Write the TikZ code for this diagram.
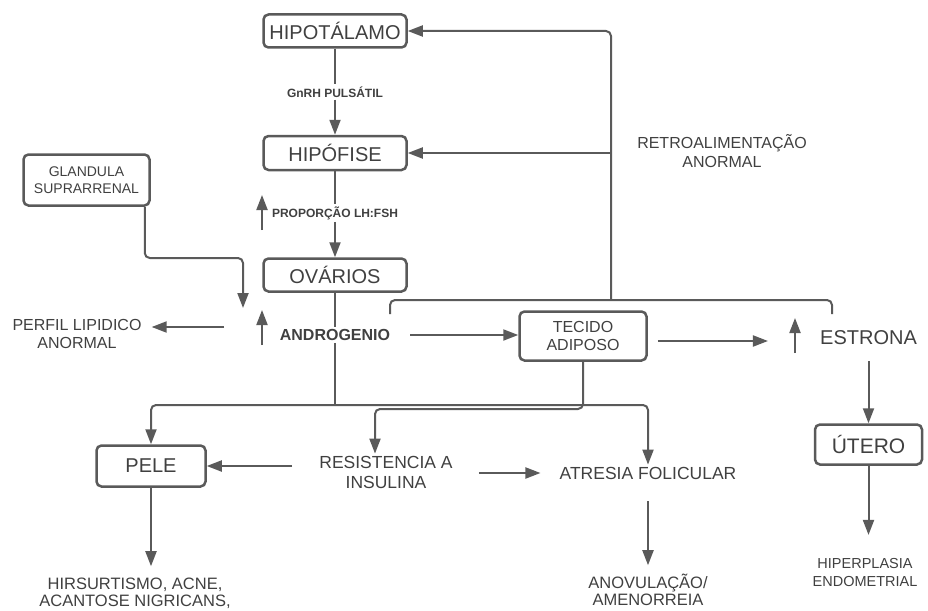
\documentclass[tikz,border=0pt]{standalone}
\usepackage{fontspec}
\setmainfont{Liberation Sans}
\usetikzlibrary{arrows.meta,calc}
\definecolor{lg}{HTML}{5A5A5A}
\definecolor{tg}{HTML}{404040}
\begin{document}
\begin{tikzpicture}[x=1pt,y=-1pt,
  box/.style={draw=lg, line width=2.5pt, rounded corners=5pt, text=tg, align=center, inner sep=0pt},
  lbl/.style={text=tg, align=center, inner sep=2pt},
  conn/.style={draw=lg, line width=2pt},
  arr/.style={conn, -{Triangle[length=15pt,width=11pt]}},
  fbig/.style={font=\fontsize{20}{22}\selectfont},
  futer/.style={font=\fontsize{21}{23}\selectfont},
  fmid/.style={font=\fontsize{17.5}{20}\selectfont},
  fsix/.style={font=\fontsize{16}{18}\selectfont},
  fretro/.style={font=\fontsize{16}{19}\selectfont},
  fbot/.style={font=\fontsize{16.5}{16.5}\selectfont},
  fhip/.style={font=\fontsize{14.5}{18.5}\selectfont},
  fgl/.style={font=\fontsize{14}{17}\selectfont},
  fbsix/.style={font=\bfseries\fontsize{16}{18}\selectfont},
  fbsm/.style={font=\bfseries\fontsize{12}{14}\selectfont}
]
\useasboundingbox (0,0) rectangle (928,610);

% boxes
\node[box, fbig, minimum width=143pt, minimum height=33pt] (hipot) at (335,31) {HIPOTÁLAMO};
\node[box, fbig, minimum width=143pt, minimum height=34pt] (hipof) at (335,153) {HIPÓFISE};
\node[box, fbig, minimum width=143pt, minimum height=33pt] (ovar) at (335,275) {OVÁRIOS};
\node[box, fgl, minimum width=126pt, minimum height=51pt] (gland) at (86.5,180) {GLANDULA\\SUPRARRENAL};
\node[box, fsix, minimum width=127pt, minimum height=49pt] (tecido) at (583,336) {TECIDO\\ADIPOSO};
\node[box, fbig, minimum width=109pt, minimum height=41pt] (pele) at (151,466) {PELE};
\node[box, futer, minimum width=107pt, minimum height=40pt] (utero) at (868.5,444.5) {ÚTERO};

% labels
\node[lbl, fbsm] (gnrh) at (335,92) {GnRH PULSÁTIL};
\node[lbl, fbsm] (prop) at (335,213) {PROPORÇÃO LH:FSH};
\node[lbl, fbsix] (andro) at (335,335) {ANDROGENIO};
\node[lbl, fsix] (perfil) at (77,334) {PERFIL LIPIDICO\\ANORMAL};
\node[lbl, fretro] (retro) at (722,151.5) {RETROALIMENTAÇÃO\\ANORMAL};
\node[lbl, fbig] (estrona) at (868.5,338) {ESTRONA};
\node[lbl, fmid] (resist) at (386,472) {RESISTENCIA A\\INSULINA};
\node[lbl, fmid] (atresia) at (648,473) {ATRESIA FOLICULAR};
\node[lbl, fbot] (hirs) at (135,593.5) {HIRSURTISMO, ACNE,\\ACANTOSE NIGRICANS,};
\node[lbl, fbot] (anov) at (648,590) {ANOVULAÇÃO/\\AMENORREIA};
\node[lbl, fhip] (hiper) at (865,572.5) {HIPERPLASIA\\ENDOMETRIAL};

% main vertical chain
\draw[conn] (hipot.south) -- (gnrh.north);
\draw[arr] (gnrh.south) -- (hipof.north);
\draw[conn] (hipof.south) -- (prop.north);
\draw[arr] (prop.south) -- (ovar.north);
\draw[conn] (ovar.south) -- (andro.north);
\coordinate (j1) at (335,405);
\draw[conn] (andro.south) -- (j1);
\draw[arr, rounded corners=5pt] (j1) -| (pele.north);
\draw[arr, rounded corners=5pt] (j1) -| (atresia.north);

% feedback bracket
\coordinate (fb) at (611,300);
\coordinate (brL) at (390,314);
\coordinate (brR) at (832,314);
\draw[conn, rounded corners=5pt] (brL) |- (fb) -| (brR);
\draw[arr, rounded corners=5pt] (fb) |- (hipot.east);
\draw[arr] (fb |- hipof.east) -- (hipof.east);

% glandula
\coordinate (glA) at ($(gland.south east)+(-6,0)$);
\coordinate (glEnd) at (243,308);
\coordinate (glK) at (243,258);
\draw[arr, rounded corners=5pt] (glA) |- (glK) -- (glEnd);

% up arrows
\coordinate (u1a) at (262,230); \coordinate (u1b) at (262,195);
\coordinate (u2a) at (262,345); \coordinate (u2b) at (262,310);
\coordinate (u3a) at (795,353); \coordinate (u3b) at (795,318);
\draw[arr] (u1a) -- (u1b);
\draw[arr] (u2a) -- (u2b);
\draw[arr] (u3a) -- (u3b);

% perfil
\coordinate (pfA) at (224,327);
\draw[arr, shorten >=8pt] (pfA) -- (perfil.east |- pfA);

% androgenio -> tecido
\draw[arr, shorten <=18pt] (andro.east) -- (tecido.west |- andro.east);

% tecido -> estrona
\coordinate (teA) at ($(tecido.east)+(10,5)$);
\draw[arr, shorten >=50pt] (teA) -- (estrona.west |- teA);

% estrona -> utero -> hiperplasia
\draw[arr, shorten <=14pt] (estrona.south) -- (utero.north);
\draw[arr, shorten >=21pt] (utero.south) -- (utero.south |- hiper.north);

% tecido -> resistencia
\coordinate (rj) at (375,409);
\draw[arr, rounded corners=5pt] (tecido.south) |- (rj) -- (rj |- resist.north);

% resistencia -> pele, atresia
\draw[arr, shorten <=25pt] (resist.west |- pele.east) -- (pele.east);
\draw[arr, shorten <=24pt, shorten >=17pt] (resist.east |- atresia.west) -- (atresia.west);

% atresia -> anov ; pele -> hirs
\draw[arr, shorten <=20pt, shorten >=7pt] (atresia.south) -- (anov.north);
\draw[arr, shorten >=10pt] (pele.south) -- (pele.south |- hirs.north);
\end{tikzpicture}
\end{document}
